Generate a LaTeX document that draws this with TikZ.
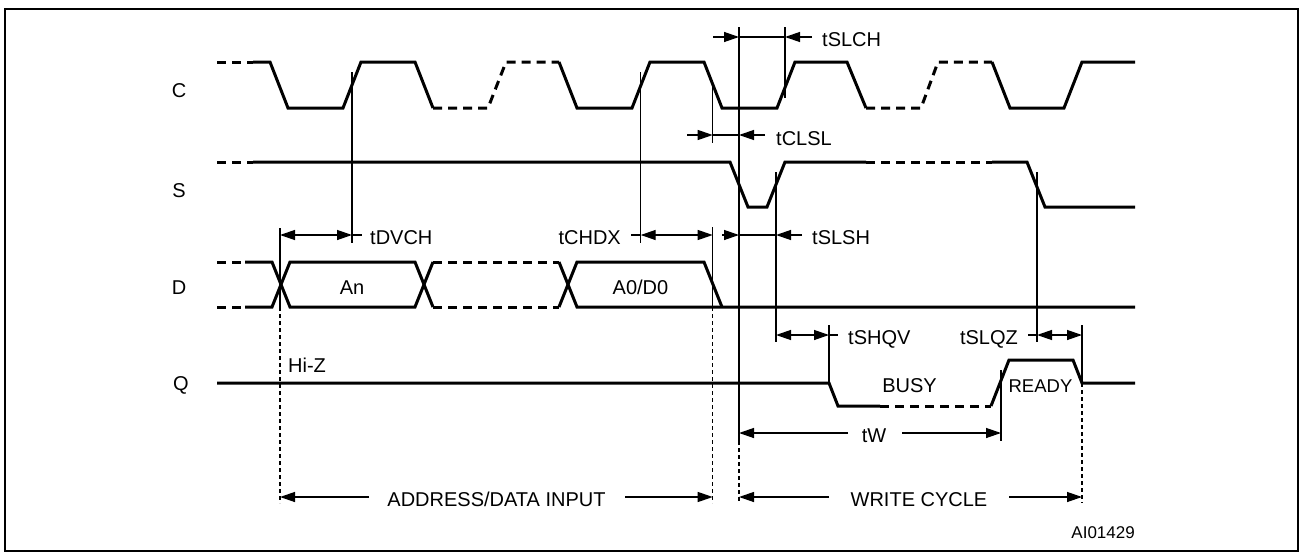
\documentclass[tikz,border=0pt]{standalone}
\usepackage{fontspec}
\setmainfont{Liberation Sans}
\usetikzlibrary{arrows.meta}
\begin{document}
\begin{tikzpicture}[x=1pt,y=-1pt,
  sig/.style={line width=3pt},
  sigd/.style={line width=3pt, dash pattern=on 9pt off 6pt},
  thin/.style={line width=1.3pt},
  thind/.style={line width=1.3pt, dash pattern=on 4pt off 3pt},
  tip/.style={-{Triangle[length=15pt,width=10pt]}},
  dtip/.style={{Triangle[length=15pt,width=10pt]}-{Triangle[length=15pt,width=10pt]}},
  lbl/.style={font=\fontsize{20}{24}\selectfont, inner sep=0pt, anchor=base},
  small/.style={font=\fontsize{17}{20}\selectfont, inner sep=0pt, anchor=base east}]
\useasboundingbox (0,0) rectangle (1304,554);
% frame
\draw[line width=2pt] (5,9) rectangle (1298,551);
% signal names
\node[lbl] (lC) at (179,97) {C};
\node[lbl] (lS) at (179,197) {S};
\node[lbl] (lD) at (179,294) {D};
\node[lbl] (lQ) at (181,390) {Q};
% C
\draw[sigd] (217,62)--(253,62);
\draw[sig] (253,62)--(270,62)--(288,108)--(343,108)--(361,62)--(415,62)--(433,108);
\draw[sigd] (433,108)--(488,108)--(506,62)--(559,62);
\draw[sig] (559,62)--(577,108)--(632,108)--(650,62)--(704,62)--(722,108)--(777,108)--(795,62)--(847,62)--(866,108);
\draw[sigd] (866,108)--(921,108)--(938,62)--(992,62);
\draw[sig] (992,62)--(1010,108)--(1064,108)--(1082,62)--(1135,62);
% S
\draw[sigd] (217,162)--(253,162);
\draw[sig] (253,162)--(730,162)--(748,207)--(767,207)--(785,162)--(866,162);
\draw[sigd] (866,162)--(992,162);
\draw[sig] (992,162)--(1027,162)--(1045,207)--(1135,207);
% D
\draw[sigd] (217,262)--(245,262);
\draw[sigd] (217,307)--(245,307);
\draw[sig] (245,262)--(272,262)--(290,307)--(415,307)--(433,262);
\draw[sig] (245,307)--(272,307)--(290,262)--(415,262)--(433,307);
\draw[sigd] (433,262)--(559,262);
\draw[sigd] (433,307)--(559,307);
\draw[sig] (559,262)--(577,307)--(1135,307);
\draw[sig] (559,307)--(577,262)--(704,262)--(722,307);
\node[lbl] (tAn) at (352,294) {An};
\node[lbl] (tA0) at (640.5,294) {A0/D0};
% Q
\draw[sig] (217,383)--(829,383)--(838,406)--(880,406);
\draw[sigd] (880,406)--(991,406);
\draw[sig] (991,406)--(1009,360)--(1073,360)--(1082,383)--(1135,383);
\node[lbl,anchor=base west] (tHiZ) at (288,372) {Hi-Z};
\node[lbl] (tBusy) at (909.5,392) {BUSY};
\node[lbl,font=\fontsize{18.5}{22}\selectfont] (tReady) at (1040.5,392) {READY};
% verticals
\draw[thin] (280,228)--(280,307);
\draw[thind] (280,307)--(280,503);
\draw[thin] (352,72)--(352,243);
\draw[thin] (640.7,72)--(640.7,243);
\draw[thin] (712.7,82)--(712.7,143);
\draw[thin] (712.7,227)--(712.7,307);
\draw[thind] (712.7,307)--(712.7,503);
\draw[thin] (739,27)--(739,441);
\draw[thind] (739,441)--(739,503);
\draw[thin] (785,27)--(785,98);
\draw[thin] (776,172)--(776,342);
\draw[thin] (829,325)--(829,383);
\draw[thin] (1037,172)--(1037,342);
\draw[thin] (1082,325)--(1082,383);
\draw[thind] (1082,383)--(1082,503);
\draw[thin] (1001,370)--(1001,441);
% tSLCH
\draw[thin,tip] (713,37)--(739,37);
\draw[thin] (739,37)--(785,37);
\draw[thin,tip] (812,37)--(785,37);
\node[lbl,anchor=base west] (tSLCH) at (822,46) {tSLCH};
% tCLSL
\draw[thin,tip] (687,135)--(712.7,135);
\draw[thin] (712.7,135)--(739,135);
\draw[thin,tip] (765,135)--(739,135);
\node[lbl,anchor=base west] (tCLSL) at (776,145) {tCLSL};
% tDVCH
\draw[thin,dtip] (280,235)--(352,235);
\draw[thin] (352,235)--(362,235);
\node[lbl,anchor=base west] (tDVCH) at (370,244) {tDVCH};
% tCHDX
\node[lbl,anchor=base east] (tCHDX) at (621,244) {tCHDX};
\draw[thin] (631,235)--(640.7,235);
\draw[thin,dtip] (640.7,235)--(712.7,235);
% tSLSH
\draw[thin,tip] (722,235)--(739,235);
\draw[thin] (739,235)--(776,235);
\draw[thin,tip] (802,235)--(776,235);
\node[lbl,anchor=base west] (tSLSH) at (812,244) {tSLSH};
% tSHQV
\draw[thin,dtip] (776,335)--(829,335);
\draw[thin] (829,335)--(838,335);
\node[lbl,anchor=base west] (tSHQV) at (848,344) {tSHQV};
% tSLQZ
\node[lbl,anchor=base east] (tSLQZ) at (1018,344) {tSLQZ};
\draw[thin] (1028,335)--(1037,335);
\draw[thin,dtip] (1037,335)--(1082,335);
% tW
\node[lbl] (tW) at (874,442) {tW};
\draw[thin,tip] (848,433)--(739,433);
\draw[thin,tip] (902,433)--(1001,433);
% ADDRESS/DATA INPUT
\node[lbl] (tADI) at (496.5,506) {ADDRESS/DATA INPUT};
\draw[thin,tip] (369,497)--(280,497);
\draw[thin,tip] (625,497)--(712.7,497);
% WRITE CYCLE
\node[lbl] (tWC) at (919,506) {WRITE CYCLE};
\draw[thin,tip] (829,497)--(739,497);
\draw[thin,tip] (1009,497)--(1082,497);
% figure code
\node[small] (tAI) at (1135,538) {AI01429};
\end{tikzpicture}
\end{document}
